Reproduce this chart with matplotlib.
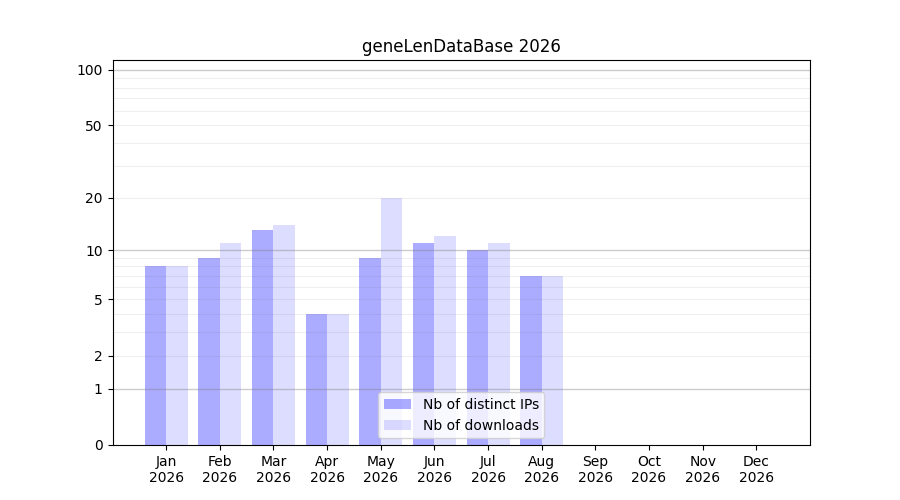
import numpy as np
import matplotlib
matplotlib.use('Agg')
import matplotlib.pyplot as plt

# monthly stats
months = ['Jan', 'Feb', 'Mar', 'Apr', 'May', 'Jun', 'Jul', 'Aug', 'Sep', 'Oct', 'Nov', 'Dec']
year = '2026'
nb_ips = [8, 9, 13, 4, 9, 11, 10, 7]
nb_downloads = [8, 11, 14, 4, 20, 12, 11, 7]

ytick_vals = [0, 1, 2, 5, 10, 20, 50, 100]
major_grid = [1, 10, 100]
minor_grid = [2, 3, 4, 5, 6, 7, 8, 9, 20, 30, 40, 50, 60, 70, 80, 90]

fig, ax = plt.subplots(figsize=(9, 5), dpi=100)
ax.set_yscale('function', functions=(lambda v: np.log10(1 + np.clip(v, 0, None)),
                                     lambda v: 10 ** v - 1))

x = np.arange(len(nb_ips))
ax.bar(x - 0.2, nb_ips, width=0.4, color='blue', alpha=0.33, label='Nb of distinct IPs')
ax.bar(x + 0.2, nb_downloads, width=0.4, color='blue', alpha=0.133, label='Nb of downloads')

for g in major_grid:
    ax.axhline(g, color='gray', alpha=0.4, lw=1, zorder=1.5)
for g in minor_grid:
    ax.axhline(g, color='gray', alpha=0.12, lw=0.8, zorder=1.5)

ax.set_yticks(ytick_vals)
ax.set_yticklabels([str(v) for v in ytick_vals])
ax.yaxis.set_minor_locator(matplotlib.ticker.NullLocator())
ax.set_ylim(0, 113)

ax.set_xticks(np.arange(len(months)))
ax.set_xticklabels([m + '\n' + year for m in months])
ax.set_xlim(-1, len(months))

ax.set_title('geneLenDataBase ' + year)
ax.legend(loc='lower center')

plt.savefig('out.png')
